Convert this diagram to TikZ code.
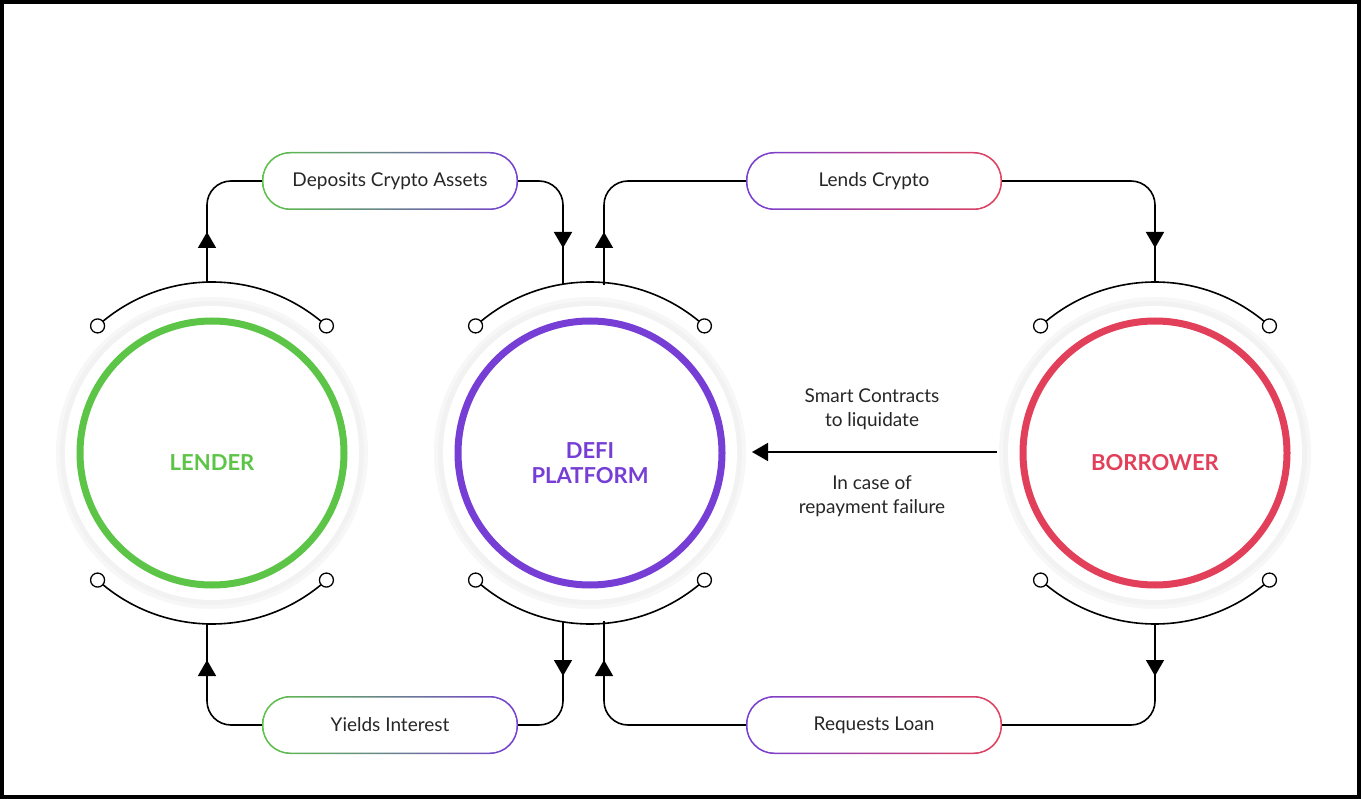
\documentclass[tikz,border=0pt]{standalone}
\usepackage{fontspec}
\setmainfont{Lato}
\usetikzlibrary{arrows.meta}
\definecolor{cg}{RGB}{92,196,70}
\definecolor{cp}{RGB}{118,62,212}
\definecolor{cr}{RGB}{226,64,90}
\begin{document}
\begin{tikzpicture}[x=1pt,y=-1pt,
  conn/.style={line width=1.6pt,rounded corners=24pt},
  tip/.style={line width=1.6pt,-{Triangle[width=18pt,length=16pt]}},
  lab/.style={font=\fontsize{19}{21}\selectfont,text=black!85},
  big/.style={font=\bfseries\fontsize{22}{25}\selectfont,align=center},
  pillo/.style={rounded corners=28pt,minimum width=256pt,minimum height=58pt},
  pilli/.style={rounded corners=27pt,minimum width=253pt,minimum height=55pt,fill=white,lab}]
\useasboundingbox (0,0) rectangle (1361,799);
\draw[line width=8pt] (0,0) rectangle (1361,799);
% circles
\foreach \n/\cx/\col/\txt in {L/212/cg/LENDER,D/590/cp/{DEFI\\PLATFORM},B/1155/cr/BORROWER}{
  \fill[black!3] (\cx,453) circle (156);
  \fill[black!5] (\cx,453) circle (152);
  \fill[white] (\cx,453) circle (147);
  \draw[\col,line width=7pt] (\cx,453) circle (132);
  \node[big,text=\col] (\n) at (\cx,463) {\txt};
  \draw[line width=1.6pt] (\cx,453) ++(132:171) arc (132:48:171);
  \draw[line width=1.6pt] (\cx,453) ++(228:171) arc (228:312:171);
  \foreach \a in {132,48,228,312}{\draw[line width=1.3pt,fill=white] (\cx,453) ++(\a:171) circle (7);}
  \coordinate (\n t) at (\cx,282);
  \coordinate (\n b) at (\cx,624);
}
% pills
\foreach \n/\x/\y/\ca/\cb/\txt in {p1/390/181/cg/cp/Deposits Crypto Assets,p2/874/181/cp/cr/Lends Crypto,p3/390/725/cg/cp/Yields Interest,p4/874/725/cp/cr/Requests Loan}{
  \node[pillo,left color=\ca,right color=\cb] (\n o) at (\x,\y) {};
  \node[pilli] (\n) at (\x,\y) {\txt};
}
% connectors
\draw[conn] (207,282) |- (p1o.west);
\draw[conn] (p1o.east) -| (563,285);
\draw[conn] (604,285) |- (p2o.west);
\draw[conn] (p2o.east) -| (Bt);
\draw[conn] (207,624) |- (p3o.west);
\draw[conn] (p3o.east) -| (563,621);
\draw[conn] (604,621) |- (p4o.west);
\draw[conn] (p4o.east) -| (Bb);
\draw[tip] (207,258) -- (207,232);
\draw[tip] (563,222) -- (563,248);
\draw[tip] (604,258) -- (604,232);
\draw[tip] (1155,222) -- (1155,248);
\draw[tip] (207,688) -- (207,660);
\draw[tip] (563,650) -- (563,676);
\draw[tip] (604,688) -- (604,660);
\draw[tip] (1155,650) -- (1155,676);
\coordinate (ms) at (997,452);
\coordinate (me) at (752,452);
\draw[tip] (ms) -- (me);
\node[lab] at (872,396) {Smart Contracts};
\node[lab] at (872,421) {to liquidate};
\node[lab] at (872,483) {In case of};
\node[lab] at (872,508) {repayment failure};
\end{tikzpicture}
\end{document}
